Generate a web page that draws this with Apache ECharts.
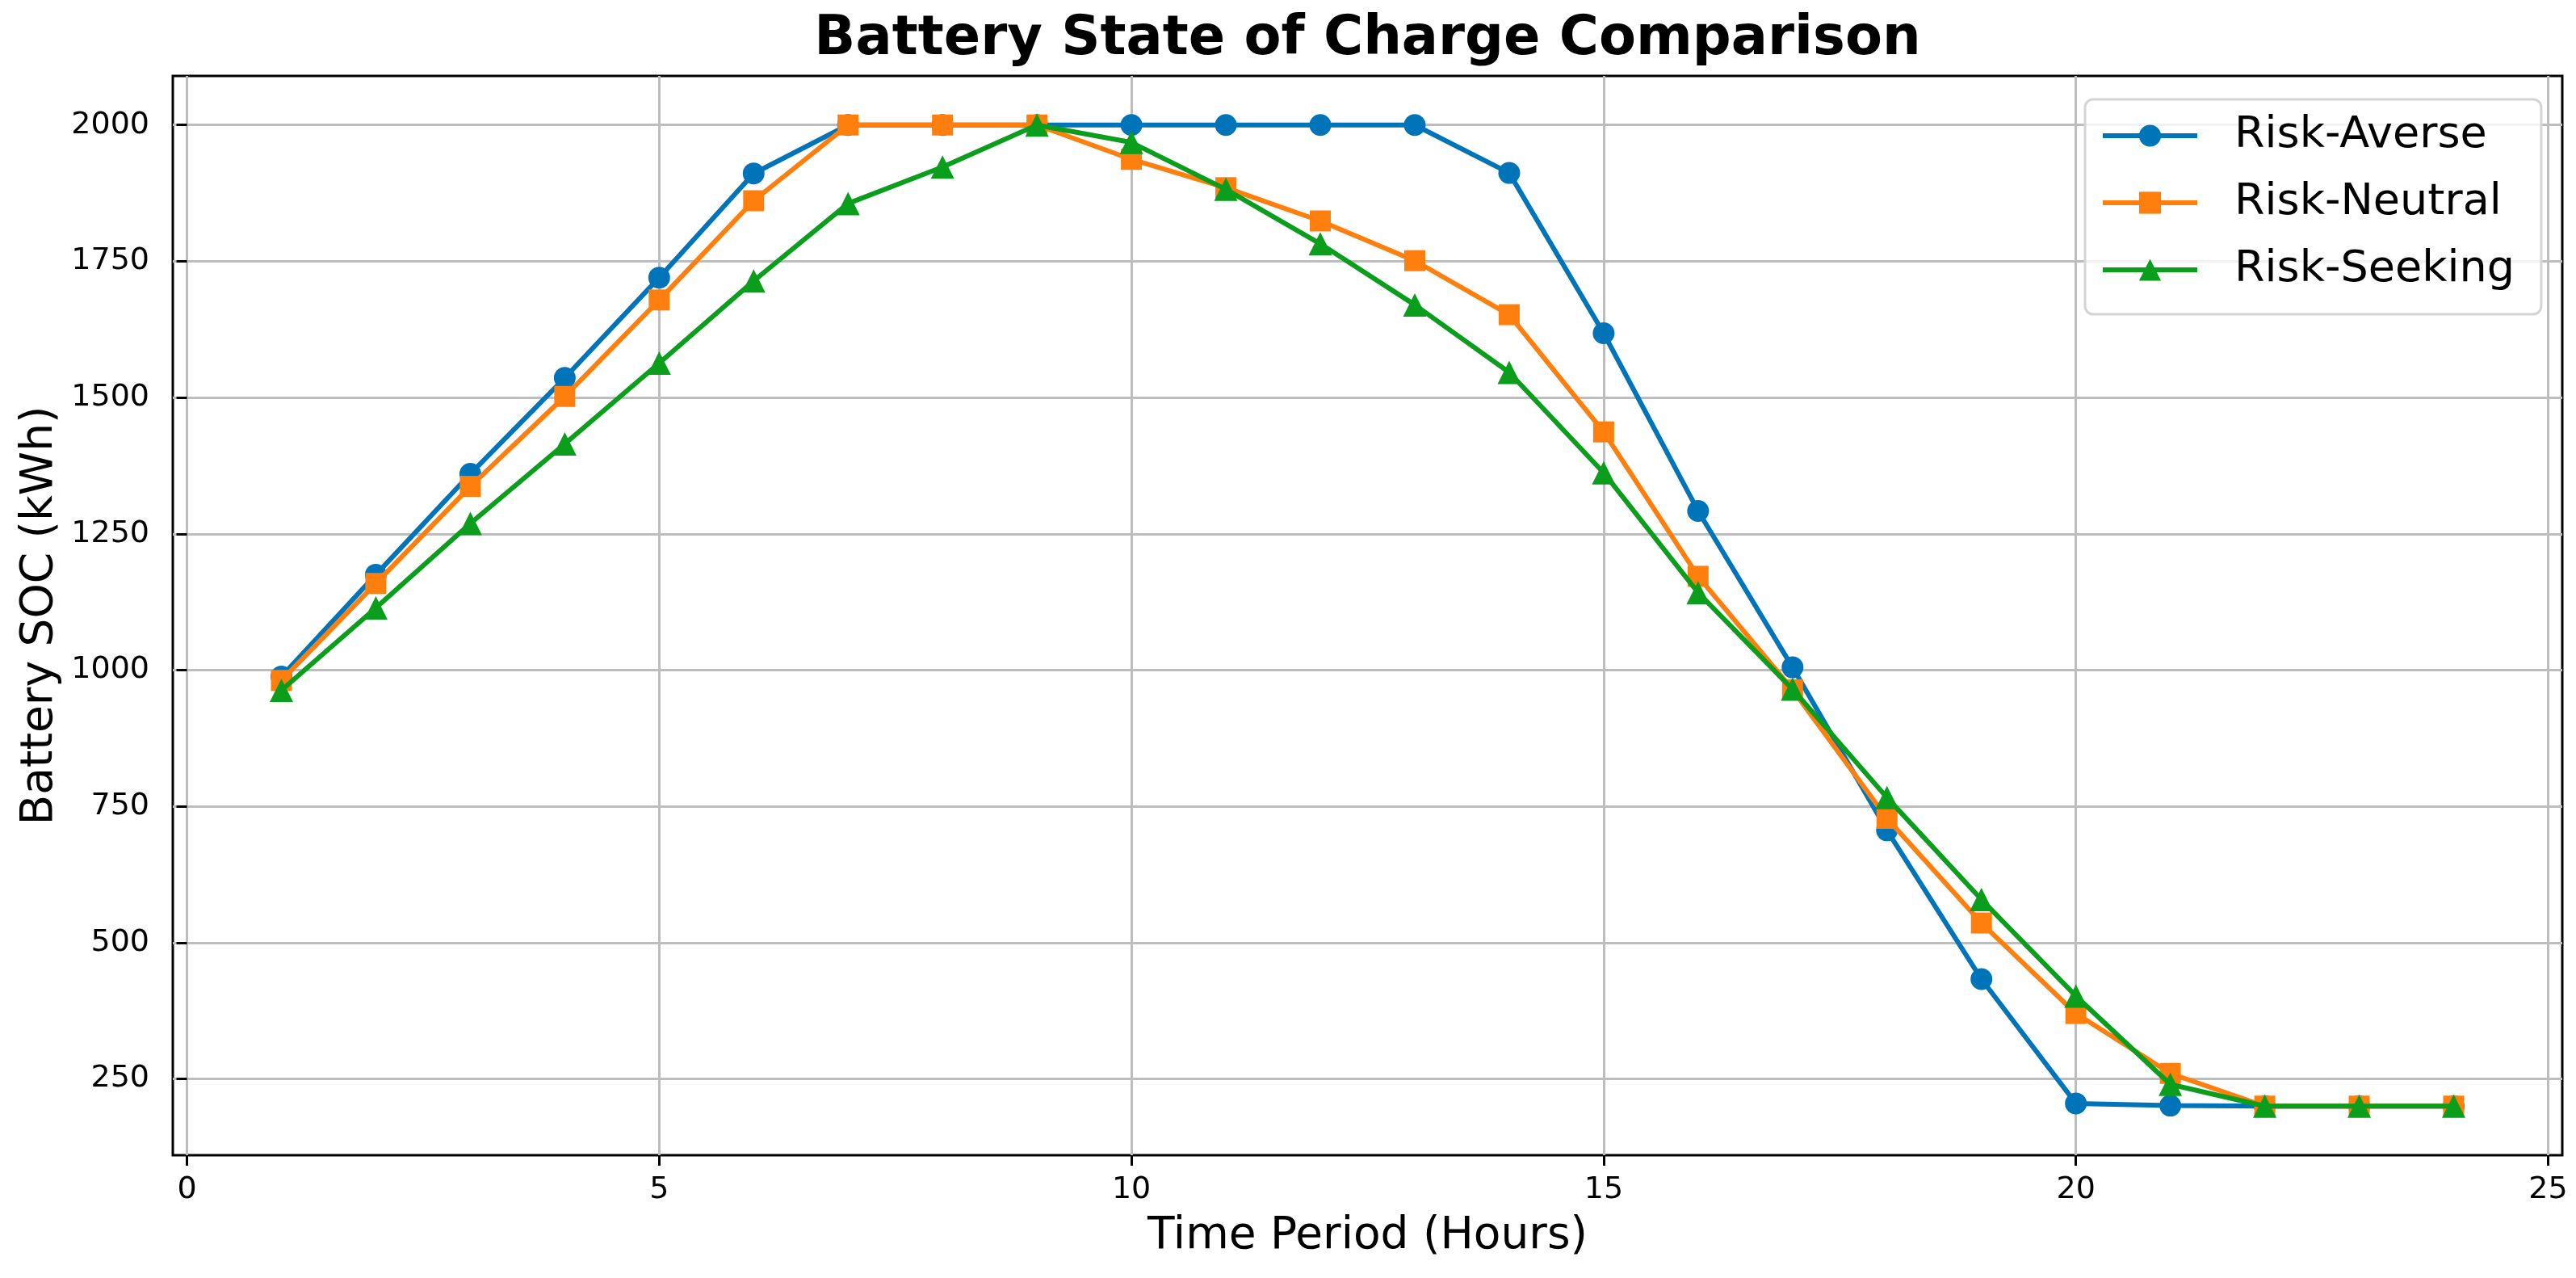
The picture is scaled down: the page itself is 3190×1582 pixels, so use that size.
<!DOCTYPE html>
<html><head><meta charset="utf-8">
<script src="https://cdn.jsdelivr.net/npm/echarts@6/dist/echarts.min.js"></script>
<style>html,body{margin:0;padding:0;background:#fff}#chart{width:3190px;height:1582px}</style>
</head><body><div id="chart"></div>
<script>
const hours = [1,2,3,4,5,6,7,8,9,10,11,12,13,14,15,16,17,18,19,20,21,22,23,24];
const riskAverse = [988,1175,1360,1536,1720,1911,2000,2000,2000,2000,2000,2000,2000,1912,1618,1292,1005,706,433,205,201,200,200,200];
const riskNeutral = [981,1159,1337,1502,1679,1861,2000,2000,2000,1937,1885,1824,1751,1652,1437,1172,964,728,536,370,260,200,200,200];
const riskSeeking = [963,1114,1269,1415,1563,1714,1856,1923,2000,1968,1882,1782,1670,1546,1362,1142,965,766,579,402,240,200,200,200];
const seriesNames = ['Risk-Averse','Risk-Neutral','Risk-Seeking'];
const seriesColors = ['#0074b9','#ff7f0e','#0a9e1c'];
const seriesSymbols = ['circle','rect','triangle'];
const xTicks = [0,5,10,15,20,25];
const yTicks = [250,500,750,1000,1250,1500,1750,2000];
const titleText = 'Battery State of Charge Comparison';
const xName = 'Time Period (Hours)';
const yName = 'Battery SOC (kWh)';

const FONT = 'DejaVu Sans';
const W = 3190, H = 1582;
const gridPos = {left:214, top:94, right:17, bottom:152};
const plotCenterX = gridPos.left + (W - gridPos.left - gridPos.right) / 2;

const chart = echarts.init(document.getElementById('chart'), null, {renderer:'canvas', width:W, height:H});
const allSeries = [riskAverse, riskNeutral, riskSeeking];
const symbolSizes = [27, 26, 29];

const option = {
  animation:false,
  backgroundColor:'#ffffff',
  title:{
    text:titleText, left:plotCenterX, top:16, padding:0, textAlign:'center',
    textStyle:{fontFamily:FONT, fontWeight:'bold', fontSize:67, lineHeight:67, color:'#000'}
  },
  grid:{
    left:gridPos.left, top:gridPos.top, right:gridPos.right, bottom:gridPos.bottom,
    containLabel:false, outerBoundsMode:'none',
    show:true, borderColor:'#000', borderWidth:3, backgroundColor:'#fff'
  },
  legend:{
    orient:'vertical', left:2582, top:123, padding:[18,33,28,19],
    itemWidth:117, itemHeight:34, itemGap:29,
    backgroundColor:'rgba(255,255,255,0.8)', borderColor:'#d4d4d4', borderWidth:3, borderRadius:10,
    lineStyle:{width:6},
    textStyle:{fontFamily:FONT, fontSize:54, lineHeight:54, color:'#000', padding:[0,0,0,41]},
    data:seriesNames
  },
  xAxis:{
    type:'value', min:-0.15, max:25.15,
    axisLine:{show:false},
    axisTick:{show:true, inside:false, length:13, customValues:xTicks, lineStyle:{color:'#000', width:3}},
    axisLabel:{customValues:xTicks, margin:24, fontSize:38, fontFamily:FONT, color:'#000', formatter:(v)=>String(v)},
    splitLine:{show:true, lineStyle:{color:'#bdbdbd', width:3}},
    name:xName, nameLocation:'middle', nameGap:73,
    nameTextStyle:{fontFamily:FONT, fontSize:55, lineHeight:55, color:'#000'}
  },
  yAxis:{
    type:'value', min:110, max:2090,
    axisLine:{show:false},
    axisTick:{show:true, inside:false, length:13, customValues:yTicks, lineStyle:{color:'#000', width:3}},
    axisLabel:{customValues:yTicks, margin:29, fontSize:38, fontFamily:FONT, color:'#000', formatter:(v)=>String(v)},
    splitLine:{show:true, lineStyle:{color:'#bdbdbd', width:3}},
    name:yName, nameLocation:'middle', nameGap:127,
    nameTextStyle:{fontFamily:FONT, fontSize:55, lineHeight:55, color:'#000'}
  },
  series: seriesNames.map((n, k) => ({
    name:n, type:'line',
    data: hours.map((h, i) => [h, allSeries[k][i]]),
    symbol: seriesSymbols[k], symbolSize: symbolSizes[k], showSymbol:true,
    lineStyle:{width:6, color:seriesColors[k]},
    itemStyle:{color:seriesColors[k], borderWidth:0},
    emphasis:{disabled:true},
    z: 2 + k
  }))
};
chart.setOption(option);
</script></body></html>
